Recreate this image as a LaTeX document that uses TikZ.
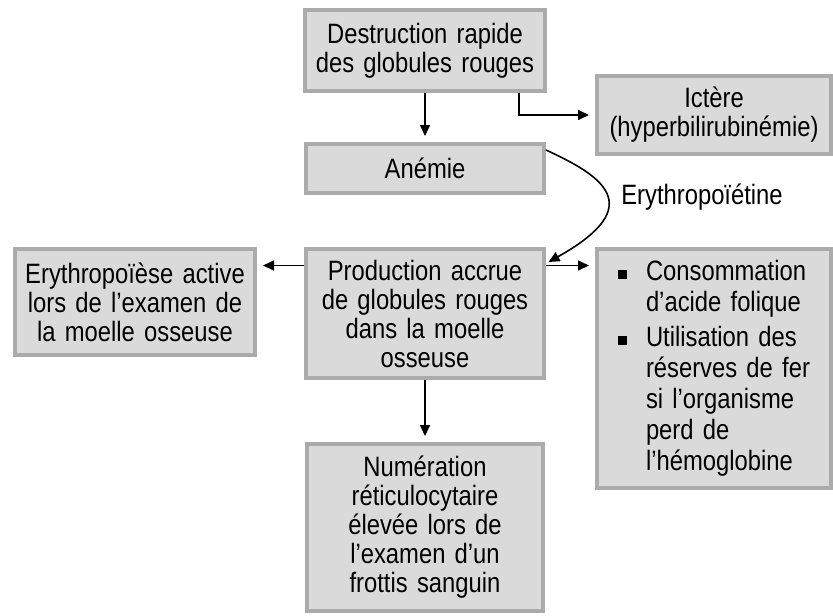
\documentclass[tikz,border=0pt]{standalone}
\usepackage{fontspec}
\setmainfont[FakeStretch=0.85, WordSpace=1.4]{Liberation Sans}
\usetikzlibrary{positioning, arrows.meta, calc}
\definecolor{boxfill}{HTML}{DADADA}
\definecolor{boxedge}{HTML}{ABABAB}

\newcommand\sqitem{\makebox[14pt][l]{\rule[0.8pt]{4.5pt}{4.5pt}}}
\newcommand\sqgap{\hspace*{14pt}}

\tikzset{
  flowbox/.style={draw=boxedge, line width=2pt, fill=boxfill,
    inner xsep=3pt, inner ysep=2pt, align=center,
    font=\fontsize{14}{14.5}\selectfont},
  arr/.style={-{Triangle[length=5.5pt,width=5pt]}, line width=0.8pt,
    shorten >=3pt},
}

\begin{document}
\begin{tikzpicture}[x=0.5pt, y=-0.5pt]
  \useasboundingbox (0,0) rectangle (833,615);

  % boxes
  \node[flowbox, minimum width=120pt, minimum height=40.5pt]
    (destruction) at (425,50.5) {Destruction rapide\\des globules rouges};
  \node[flowbox, minimum width=117pt, minimum height=39pt]
    (ictere) at (714,115) {Ictère\\(hyperbilirubinémie)};
  \node[flowbox, minimum width=119pt, minimum height=24.5pt]
    (anemie) at (425,168.5) {Anémie};
  \node[flowbox, minimum width=119pt, minimum height=64.5pt]
    (production) at (425,313.5)
    {Production accrue\\de globules rouges\\dans la moelle\\osseuse};
  \node[flowbox, minimum width=120pt, minimum height=53pt]
    (moelle) at (135,302)
    {Erythropoïèse active\\lors de l’examen de\\la moelle osseuse};
  \node[flowbox, align=left, font=\fontsize{14}{15.5}\selectfont,
        minimum width=117pt, minimum height=119.5pt]
    (besoins) at (714,368.5)
    {\sqitem Consommation\\\sqgap d’acide folique\\[2pt]
     \sqitem Utilisation des\\\sqgap réserves de fer\\\sqgap si l’organisme\\
     \sqgap perd de\\\sqgap l’hémoglobine};
  \node[flowbox, minimum width=118pt, minimum height=83.5pt]
    (numeration) at (425,527.5)
    {Numération\\réticulocytaire\\élevée lors de\\l’examen d’un\\frottis sanguin};

  \node[font=\fontsize{14}{14.5}\selectfont] (epo) at (702,197) {Erythropoïétine};

  % connectors
  \draw[arr] (destruction) -- (anemie);
  \draw[arr] ([xshift=47pt]destruction.south) |- (ictere.west);
  \draw[arr, shorten >=0pt] ([yshift=-4pt]anemie.north east)
    .. controls +(27pt,-12.5pt) and +(51pt,28.5pt)
    .. ([shift={(1.25pt,-7.5pt)}]production.north east);
  \draw[arr] ([yshift=24pt]production.west) coordinate (pw) -- (moelle.east |- pw);
  \draw[arr] ([yshift=24pt]production.east) coordinate (pe) -- (besoins.west |- pe);
  \draw[arr] (production) -- (numeration);
\end{tikzpicture}
\end{document}
